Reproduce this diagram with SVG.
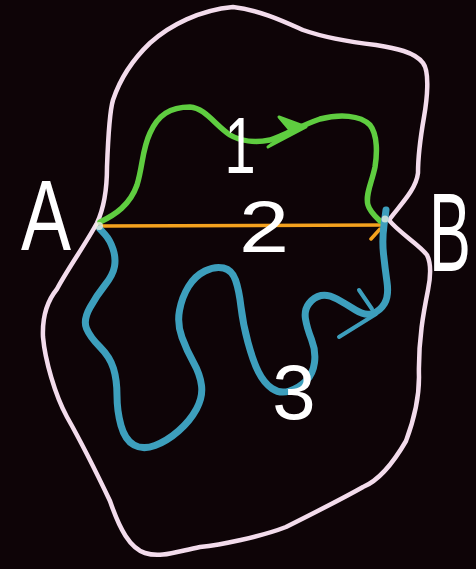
<svg xmlns="http://www.w3.org/2000/svg" width="476" height="569" viewBox="0 0 476 569">
<style>
.bg{fill:#0e0407}
.region{fill:none;stroke:#f3dcec;stroke-width:4.5;stroke-linecap:round;stroke-linejoin:round}
.conn{fill:none;stroke-linecap:round;stroke-linejoin:round}
.p1{stroke:#5fcd40;stroke-width:5.5}
.p1h{fill:#5fcd40;stroke:#5fcd40;stroke-width:3;stroke-linejoin:round}
.p2{stroke:#f4a21e;stroke-width:3.5}
.p3{stroke:#3d9fbd;stroke-width:7}
.p3h{stroke:#3d9fbd;stroke-width:4}
.lbl{font-family:"Liberation Sans",Arial,sans-serif;fill:#ffffff;text-anchor:middle}
.glow{fill:#eef3e4;opacity:0.75}
</style>
<rect class="bg" width="476" height="569"/>
<g id="region">
<path class="region" d="M 233,7 C 260,10 285,22 303,30 C 320,36 350,42 376,45 C 395,48 415,52 423,63 C 430,72 427,100 424,117 C 420,140 418,160 418,173 C 416,190 400,205 389,220 C 398,232 420,245 427,255 C 432,265 430,280 428,290 C 424,310 418,340 419,377 C 419,400 412,425 406,441 C 395,460 380,480 363,487 C 340,500 300,520 286,527 C 260,537 220,545 200,547 C 175,552 160,558 145,553 C 130,548 120,530 110,501 C 100,480 80,440 67,417 C 55,395 45,360 43,337 C 42,315 48,300 57,289 C 67,270 85,245 97,223 C 103,210 107,190 107,167 C 108,140 110,110 113,100 C 118,85 127,65 150,43 C 170,25 200,10 233,7 Z"/>
</g>
<g id="connectors">
<path class="conn p2" d="M 102,226 L 384,225 M 380,229 L 371,239"/>
<path class="conn p1" d="M 100,222 C 115,215 130,205 137,185 C 143,165 142,150 150,133 C 158,115 170,107 190,107 C 205,108 215,125 230,135 C 240,141 255,143 270,140 C 285,135 300,126 320,119 C 340,114 360,115 370,125 C 378,135 377,155 375,167 C 372,182 365,195 368,205 C 370,212 376,217 380,221"/>
<path class="p1h" d="M 279,117 L 306,127 L 268,147 L 290,130 Z"/>
<path class="conn p3" d="M 100,229 L 105,234.5 Q 110,240 113,249 Q 116,258 114.5,266.5 Q 113,275 105,285 Q 97,295 90,307.5 Q 83,320 86.5,328.5 Q 90,337 100,347 Q 110,357 113.5,368.5 Q 117,380 117,395.5 Q 117,411 121,425.5 Q 125,440 134,445 Q 143,450 155,445.5 Q 167,441 178.5,431 Q 190,421 196.5,409 Q 203,397 201.5,385.5 Q 200,374 193.5,362.5 Q 187,351 182,337.5 Q 177,324 179.5,310.5 Q 182,297 188.5,286.5 Q 195,276 205,271 Q 215,266 223.5,268 Q 232,270 235.5,280 Q 239,290 241,307 Q 243,324 248,342.5 Q 253,361 258.5,372 Q 264,383 272,388.5 Q 280,394 289.5,391 Q 299,388 306,381 Q 313,374 314.5,362.5 Q 316,351 311.5,339.5 Q 307,328 305.5,319 Q 304,310 309,303.5 Q 314,297 321,295.5 Q 328,294 337,299 Q 346,304 355.5,310 Q 365,316 372.5,313.5 Q 380,311 384.5,303.5 Q 389,296 387,282 Q 385,268 383.5,254 Q 382,240 384,225 L 386,210"/>
<path class="conn p3h" d="M 339,337 L 376,314 M 359,290 L 372,309"/>
<text class="lbl" font-size="80" transform="translate(240,173) scale(0.7,1)">1</text>
<text class="lbl" font-size="72" transform="translate(264,252) scale(1.25,1)">2</text>
<text class="lbl" x="294" y="419" font-size="78">3</text>
</g>
<g id="A">
<circle class="glow" cx="99" cy="226" r="4"/>
<text class="lbl" font-size="100" transform="translate(46,250) scale(0.75,1)">A</text>
</g>
<g id="B">
<circle class="glow" cx="385" cy="219" r="3.5"/>
<text class="lbl" font-size="112" transform="translate(450,271) scale(0.56,1)">B</text>
</g>
</svg>
